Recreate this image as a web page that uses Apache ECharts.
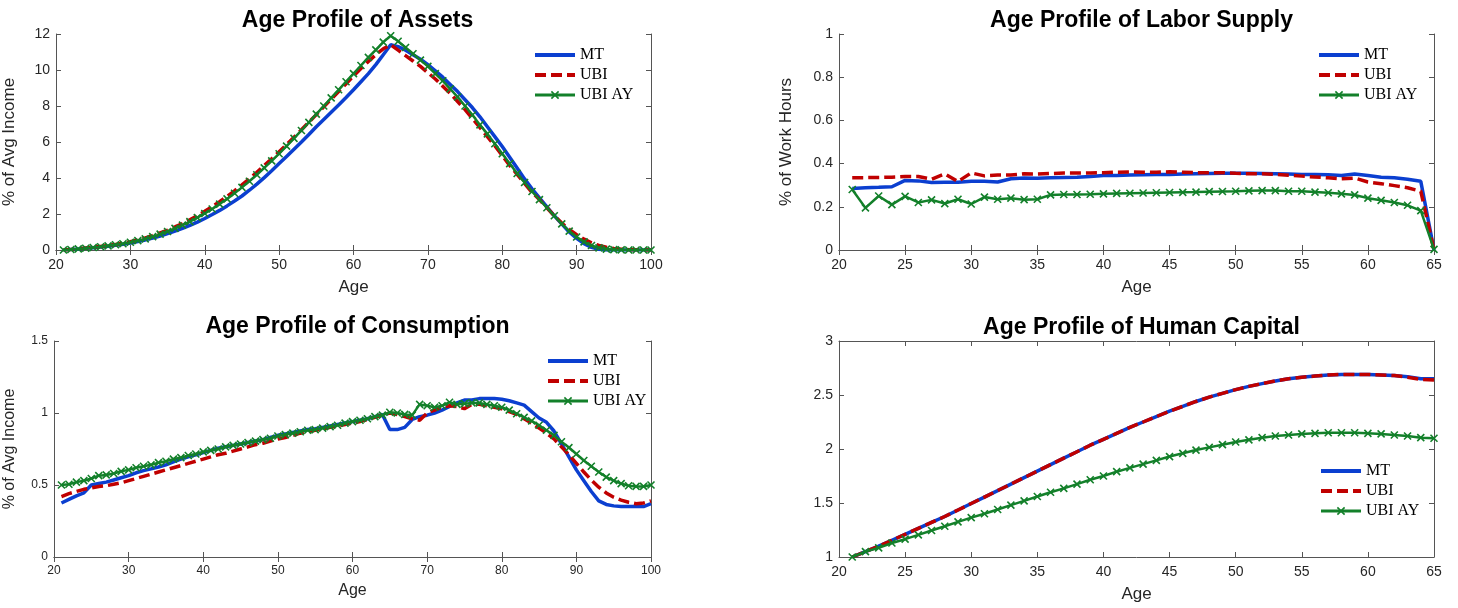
<!DOCTYPE html>
<html><head><meta charset="utf-8">
<script src="https://cdn.jsdelivr.net/npm/echarts@6/dist/echarts.min.js"></script>
<style>html,body{margin:0;padding:0;background:#fff;overflow:hidden}#c{width:1458px;height:608px}</style>
</head><body><div id="c"></div>
<script>
// ---------------- DATA ----------------
const agesLong = [21,22,23,24,25,26,27,28,29,30,31,32,33,34,35,36,37,38,39,40,41,42,43,44,45,46,47,48,49,50,51,52,53,54,55,56,57,58,59,60,61,62,63,64,65,66,67,68,69,70,71,72,73,74,75,76,77,78,79,80,81,82,83,84,85,86,87,88,89,90,91,92,93,94,95,96,97,98,99,100];
const agesWork = [21,22,23,24,25,26,27,28,29,30,31,32,33,34,35,36,37,38,39,40,41,42,43,44,45,46,47,48,49,50,51,52,53,54,55,56,57,58,59,60,61,62,63,64,65];

const assetsMT = [0.0,0.03,0.06,0.1,0.13,0.17,0.21,0.26,0.32,0.39,0.47,0.56,0.66,0.78,0.91,1.05,1.2,1.37,1.55,1.75,1.97,2.2,2.45,2.72,3.0,3.32,3.66,4.02,4.4,4.8,5.2,5.6,6.0,6.42,6.85,7.25,7.65,8.05,8.47,8.9,9.35,9.8,10.3,10.85,11.4,11.3,11.1,10.85,10.6,10.3,9.95,9.6,9.2,8.8,8.35,7.9,7.4,6.85,6.3,5.75,5.15,4.55,3.95,3.4,2.9,2.4,1.9,1.45,1.0,0.65,0.35,0.15,0.04,0.0,0.0,0.0,0.0,0.0,0.0,0.0];
const assetsUBI = [0.0,0.03,0.07,0.11,0.15,0.2,0.25,0.31,0.38,0.46,0.56,0.67,0.8,0.95,1.1,1.28,1.47,1.68,1.91,2.15,2.41,2.69,2.98,3.29,3.62,3.96,4.32,4.69,5.07,5.46,5.86,6.27,6.68,7.1,7.52,7.95,8.38,8.81,9.24,9.67,10.08,10.47,10.85,11.18,11.4,11.1,10.8,10.5,10.2,9.85,9.5,9.1,8.7,8.25,7.8,7.3,6.8,6.3,5.8,5.25,4.7,4.2,3.7,3.2,2.8,2.35,1.9,1.5,1.15,0.85,0.6,0.4,0.25,0.15,0.08,0.04,0.02,0.01,0.0,0.0];
const assetsAY = [0.0,0.03,0.06,0.1,0.14,0.18,0.23,0.29,0.35,0.43,0.52,0.62,0.74,0.88,1.03,1.2,1.38,1.58,1.8,2.03,2.28,2.55,2.84,3.15,3.48,3.82,4.18,4.56,4.95,5.35,5.77,6.2,6.64,7.09,7.55,8.0,8.45,8.9,9.35,9.8,10.25,10.7,11.12,11.55,11.9,11.6,11.25,10.9,10.55,10.2,9.8,9.4,8.95,8.5,8.0,7.5,6.95,6.45,5.9,5.35,4.8,4.25,3.75,3.25,2.8,2.35,1.9,1.45,1.05,0.72,0.45,0.25,0.12,0.05,0.02,0.01,0.0,0.0,0.0,0.0];

const laborMT = [0.285,0.288,0.29,0.293,0.322,0.32,0.312,0.314,0.314,0.318,0.318,0.315,0.33,0.333,0.332,0.335,0.336,0.337,0.34,0.345,0.345,0.347,0.348,0.349,0.35,0.352,0.353,0.354,0.355,0.355,0.355,0.354,0.353,0.352,0.35,0.349,0.348,0.345,0.352,0.345,0.337,0.334,0.328,0.318,0.0];
const laborUBI = [0.335,0.335,0.336,0.337,0.34,0.34,0.328,0.352,0.317,0.357,0.343,0.347,0.347,0.353,0.352,0.354,0.356,0.356,0.357,0.358,0.36,0.361,0.36,0.36,0.362,0.36,0.358,0.358,0.358,0.355,0.353,0.353,0.35,0.346,0.342,0.338,0.334,0.33,0.333,0.315,0.307,0.298,0.288,0.272,0.0];
const laborAY = [0.28,0.195,0.25,0.21,0.248,0.22,0.232,0.215,0.235,0.213,0.245,0.235,0.24,0.233,0.235,0.255,0.257,0.257,0.258,0.26,0.262,0.263,0.264,0.265,0.266,0.267,0.268,0.27,0.271,0.272,0.274,0.275,0.275,0.272,0.272,0.268,0.265,0.26,0.255,0.24,0.23,0.22,0.207,0.182,0.003];

const consMT = [0.375,0.40,0.425,0.445,0.50,0.51,0.52,0.535,0.55,0.565,0.585,0.6,0.612,0.625,0.64,0.66,0.68,0.695,0.71,0.725,0.74,0.755,0.765,0.775,0.785,0.795,0.805,0.815,0.83,0.845,0.855,0.865,0.875,0.885,0.89,0.9,0.91,0.92,0.93,0.94,0.95,0.96,0.975,0.99,0.885,0.885,0.9,0.955,0.975,0.985,1.0,1.02,1.045,1.07,1.09,1.09,1.1,1.1,1.1,1.095,1.085,1.07,1.055,1.01,0.965,0.935,0.875,0.785,0.695,0.605,0.53,0.455,0.39,0.365,0.355,0.35,0.35,0.35,0.35,0.37];
const consUBI = [0.42,0.44,0.455,0.47,0.48,0.49,0.495,0.505,0.515,0.53,0.545,0.56,0.575,0.59,0.605,0.62,0.635,0.65,0.665,0.68,0.695,0.71,0.72,0.735,0.75,0.765,0.78,0.79,0.805,0.82,0.83,0.845,0.86,0.87,0.88,0.89,0.9,0.91,0.92,0.93,0.94,0.955,0.97,0.985,1.0,0.99,0.975,0.96,0.95,1.0,1.02,1.04,1.05,1.045,1.03,1.06,1.06,1.05,1.04,1.03,1.01,0.99,0.96,0.93,0.895,0.86,0.82,0.765,0.71,0.65,0.59,0.535,0.485,0.445,0.415,0.395,0.38,0.37,0.375,0.39];
const consAY = [0.50,0.505,0.52,0.53,0.545,0.565,0.57,0.58,0.595,0.605,0.62,0.63,0.64,0.655,0.665,0.68,0.69,0.705,0.715,0.73,0.74,0.75,0.765,0.775,0.785,0.795,0.805,0.815,0.825,0.84,0.85,0.86,0.87,0.88,0.885,0.895,0.905,0.915,0.93,0.94,0.95,0.96,0.975,0.985,1.005,1.0,0.99,0.985,1.06,1.05,1.04,1.05,1.075,1.06,1.065,1.07,1.07,1.06,1.05,1.04,1.02,0.995,0.97,0.945,0.915,0.88,0.845,0.8,0.76,0.715,0.67,0.63,0.59,0.555,0.53,0.51,0.495,0.49,0.49,0.5];

const hcMT = [1.0,1.05,1.1,1.155,1.21,1.265,1.32,1.375,1.435,1.495,1.555,1.615,1.675,1.735,1.795,1.855,1.915,1.975,2.035,2.09,2.145,2.2,2.25,2.3,2.35,2.395,2.44,2.48,2.515,2.55,2.58,2.605,2.63,2.65,2.665,2.675,2.685,2.69,2.69,2.69,2.685,2.68,2.67,2.65,2.65];
const hcUBI = [1.0,1.05,1.1,1.155,1.21,1.265,1.32,1.375,1.435,1.495,1.555,1.615,1.675,1.735,1.795,1.855,1.915,1.975,2.035,2.09,2.145,2.2,2.25,2.3,2.35,2.395,2.44,2.48,2.515,2.55,2.58,2.605,2.63,2.65,2.665,2.675,2.685,2.69,2.69,2.69,2.685,2.68,2.665,2.645,2.64];
const hcAY = [1.0,1.05,1.085,1.13,1.165,1.205,1.245,1.285,1.325,1.365,1.4,1.44,1.48,1.52,1.56,1.6,1.635,1.675,1.715,1.75,1.79,1.825,1.86,1.895,1.93,1.96,1.99,2.015,2.04,2.065,2.085,2.105,2.12,2.13,2.14,2.145,2.15,2.15,2.15,2.145,2.14,2.13,2.12,2.105,2.1];

const seriesNames = ['MT','UBI','UBI AY'];
const titles = ['Age Profile of Assets','Age Profile of Labor Supply','Age Profile of Consumption','Age Profile of Human Capital'];
const yNames = ['% of Avg Income','% of Work Hours','% of Avg Income',''];

// ---------------- LAYOUT ----------------
const C_MT = '#0b3fd0', C_UBI = '#c00000', C_AY = '#13802a', AX = '#262626', AXL = '#555555';
const FONT = 'Liberation Sans';

const panels = [
  {rect:[54,34,651,250], x:[20,100,10], y:[0,12,2], ages:agesLong, d:[assetsMT,assetsUBI,assetsAY], fs:14, nameFs:17, yNameFs:17, titleTop:4, yGap:38, xGap:29, legend:[528,42]},
  {rect:[839,34,1434,250], x:[20,65,5], y:[0,1,0.2], ages:agesWork, d:[laborMT,laborUBI,laborAY], fs:14, nameFs:17, yNameFs:17, titleTop:4, yGap:44, xGap:29, legend:[1312,42]},
  {rect:[54,341,651,557], x:[20,100,10], y:[0,1.5,0.5], ages:agesLong, d:[consMT,consUBI,consAY], fs:12, nameFs:16, yNameFs:16, titleTop:310, yGap:36, xGap:26, legend:[541,348]},
  {rect:[839,341,1434,557], x:[20,65,5], y:[1,3,0.5], ages:agesWork, d:[hcMT,hcUBI,hcAY], fs:14, nameFs:17, yNameFs:17, titleTop:311, yGap:44, xGap:29, legend:[1314,458]}
];

const grid = [], xAxis = [], yAxis = [], series = [], title = [], legend = [];
const xMark = 'path://M0,0L10,10M10,0L0,10';

panels.forEach((p, i) => {
  const [l, t, r, b] = p.rect;
  grid.push({left: l, top: t, width: r - l, height: b - t, show: false, containLabel: false});
  const lab = {color: AX, fontFamily: FONT, fontSize: p.fs};
  const line = {show: true, lineStyle: {color: AXL, width: 1}};
  const tick = {show: true, inside: true, length: 5, lineStyle: {color: AXL}};
  xAxis.push({type: 'value', gridIndex: i, position: 'bottom', min: p.x[0], max: p.x[1], interval: p.x[2],
    axisLine: line, axisTick: tick, splitLine: {show: false}, axisLabel: Object.assign({margin: 8}, lab),
    name: 'Age', nameLocation: 'middle', nameGap: p.xGap, nameTextStyle: {color: AX, fontFamily: FONT, fontSize: p.nameFs}});
  xAxis.push({type: 'value', gridIndex: i, position: 'top', min: p.x[0], max: p.x[1], interval: p.x[2],
    axisLine: line, axisTick: tick, splitLine: {show: false}, axisLabel: {show: false}});
  yAxis.push({type: 'value', gridIndex: i, position: 'left', min: p.y[0], max: p.y[1], interval: p.y[2],
    axisLine: line, axisTick: tick, splitLine: {show: false}, axisLabel: Object.assign({margin: 6}, lab),
    name: yNames[i], nameLocation: 'middle', nameGap: p.yGap, nameRotate: 90, nameTextStyle: {color: AX, fontFamily: FONT, fontSize: p.yNameFs}});
  yAxis.push({type: 'value', gridIndex: i, position: 'right', min: p.y[0], max: p.y[1], interval: p.y[2],
    axisLine: line, axisTick: tick, splitLine: {show: false}, axisLabel: {show: false}});

  title.push({text: titles[i], left: (l + r) / 2, top: p.titleTop, textAlign: 'center',
    textStyle: {fontFamily: FONT, fontWeight: 'bold', fontSize: 23, color: '#000'}});

  const zip = arr => p.ages.map((a, k) => [a, arr[k]]);
  series.push({name: 'MT', type: 'line', xAxisIndex: 2*i, yAxisIndex: 2*i, data: zip(p.d[0]), symbol: 'none',
    lineStyle: {color: C_MT, width: 3.5}, itemStyle: {color: C_MT}, z: 2, animation: false});
  series.push({name: 'UBI', type: 'line', xAxisIndex: 2*i, yAxisIndex: 2*i, data: zip(p.d[1]), symbol: 'none',
    lineStyle: {color: C_UBI, width: 3.5, type: [11, 5]}, itemStyle: {color: C_UBI}, z: 3, animation: false});
  series.push({name: 'UBI AY', type: 'line', xAxisIndex: 2*i, yAxisIndex: 2*i, data: zip(p.d[2]), symbol: xMark,
    symbolSize: 7, showSymbol: true, lineStyle: {color: C_AY, width: 2.5},
    itemStyle: {color: C_AY, borderColor: C_AY, borderWidth: 1.6}, z: 4, animation: false});

  legend.push({data: [
      {name: 'MT', itemStyle: {opacity: 0}, lineStyle: {width: 4}},
      {name: 'UBI', itemStyle: {opacity: 0}, lineStyle: {width: 4}},
      {name: 'UBI AY', lineStyle: {width: 3}}],
    orient: 'vertical', left: p.legend[0], top: p.legend[1],
    itemWidth: 40, itemHeight: 9, itemGap: 4, itemStyle: {borderWidth: 1.6},
    textStyle: {fontFamily: 'Liberation Serif', fontSize: 16, color: '#000'}, selectedMode: false});
});

const chart = echarts.init(document.getElementById('c'), null, {width: 1458, height: 608});
chart.setOption({backgroundColor: '#fff', animation: false, title, legend, grid, xAxis, yAxis, series});
</script>
</body></html>
